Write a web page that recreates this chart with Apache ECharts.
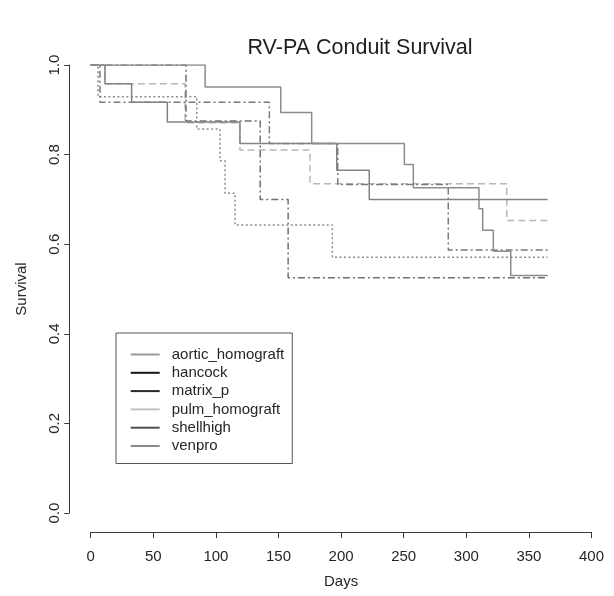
<!DOCTYPE html>
<html>
<head>
<meta charset="utf-8">
<title>RV-PA Conduit Survival</title>
<script src="https://cdn.jsdelivr.net/npm/echarts@6/dist/echarts.min.js"></script>
<style>
  html, body { margin: 0; padding: 0; background: #ffffff; }
  #chart { width: 614px; height: 596px; }
</style>
</head>
<body>
<div id="chart"></div>
<script>
// Kaplan-Meier estimates per conduit type: event days and survival after each step
const groups = ['aortic_homograft', 'hancock', 'matrix_p', 'pulm_homograft', 'shellhigh', 'venpro'];

const aorticDays  = [0, 91.4, 151.8, 176.5, 250.5, 257.7, 310.1, 313.1, 321.6, 335.5, 365];
const aorticSurv  = [1, 0.951, 0.894, 0.825, 0.778, 0.726, 0.679, 0.631, 0.584, 0.530, 0.530];

const hancockDays = [0, 7.4, 142.7, 197.3, 285.6, 365];
const hancockSurv = [1, 0.917, 0.825, 0.733, 0.587, 0.587];

const matrixDays  = [0, 5.8, 84.7, 103.3, 107.3, 115.3, 193, 365];
const matrixSurv  = [1, 0.929, 0.857, 0.786, 0.714, 0.643, 0.571, 0.571];

const pulmDays    = [0, 11.4, 75.4, 119.2, 175.2, 332.3, 365];
const pulmSurv    = [1, 0.958, 0.871, 0.810, 0.735, 0.653, 0.653];

const shellDays   = [0, 11.4, 32.7, 61.2, 119.2, 196.5, 222.5, 365];
const shellSurv   = [1, 0.958, 0.917, 0.873, 0.825, 0.765, 0.700, 0.700];

const venproDays  = [0, 76.1, 135.4, 157.7, 365];
const venproSurv  = [1, 0.875, 0.700, 0.525, 0.525];

// axis ticks
const dayTicks  = [0, 50, 100, 150, 200, 250, 300, 350, 400];
const survTicks = [0.0, 0.2, 0.4, 0.6, 0.8, 1.0];

const curves = {
  aortic_homograft: [aorticDays, aorticSurv],
  hancock: [hancockDays, hancockSurv],
  matrix_p: [matrixDays, matrixSurv],
  pulm_homograft: [pulmDays, pulmSurv],
  shellhigh: [shellDays, shellSurv],
  venpro: [venproDays, venproSurv]
};

// plotted curve styles (grey shades, R-like line types)
const curveStyle = {
  aortic_homograft: { color: '#8c8c8c', type: 'solid' },
  hancock:          { color: '#7a7a7a', type: [7, 3, 2, 3] },
  matrix_p:         { color: '#8a8a8a', type: [2, 2.5] },
  pulm_homograft:   { color: '#b8b8b8', type: [7, 4] },
  shellhigh:        { color: '#828282', type: 'solid' },
  venpro:           { color: '#707070', type: [7, 3, 2, 3] }
};

// legend key colours
const keyColor = {
  aortic_homograft: '#9a9a9a',
  hancock: '#151515',
  matrix_p: '#2a2a2a',
  pulm_homograft: '#c2c2c2',
  shellhigh: '#505050',
  venpro: '#8a8a8a'
};

const pairs = (xs, ys) => xs.map((x, i) => [x, ys[i]]);

const drawOrder = ['pulm_homograft', 'matrix_p', 'venpro', 'hancock', 'shellhigh', 'aortic_homograft'];

const series = drawOrder.map(name => ({
  name: name,
  type: 'line',
  step: 'end',
  showSymbol: false,
  symbol: 'none',
  silent: true,
  animation: false,
  color: keyColor[name],
  lineStyle: { color: curveStyle[name].color, width: 1.5, type: curveStyle[name].type },
  data: pairs(curves[name][0], curves[name][1])
}));

const chart = echarts.init(document.getElementById('chart'), null, { renderer: 'canvas' });

const textColor = '#262626';
const axisColor = '#3a3a3a';
const font = 'Liberation Sans, Arial, sans-serif';

chart.setOption({
  backgroundColor: '#ffffff',
  animation: false,
  title: {
    text: 'RV-PA Conduit Survival',
    left: 355,
    top: 32,
    textAlign: 'center',
    textStyle: { fontFamily: font, fontSize: 21.5, fontWeight: 'normal', color: '#1e1e1e' }
  },
  grid: {
    left: 90.7, right: 614 - 591.5, top: 65, bottom: 596 - 513,
    containLabel: false,
    outerBoundsMode: 'none'
  },
  xAxis: {
    type: 'value',
    min: dayTicks[0],
    max: dayTicks[dayTicks.length - 1],
    interval: 50,
    offset: 19,
    name: 'Days',
    nameLocation: 'middle',
    nameGap: 42.5,
    nameTextStyle: { fontFamily: font, fontSize: 15, color: textColor },
    axisLine: { show: true, onZero: false, lineStyle: { color: axisColor, width: 1 } },
    axisTick: { show: true, length: 6, inside: false, lineStyle: { color: axisColor } },
    axisLabel: { margin: 17.5, fontFamily: font, fontSize: 15, color: textColor },
    splitLine: { show: false }
  },
  yAxis: {
    type: 'value',
    min: survTicks[0],
    max: survTicks[survTicks.length - 1],
    interval: 0.2,
    offset: 21.5,
    name: 'Survival',
    nameLocation: 'middle',
    nameRotate: 90,
    nameGap: 40,
    nameTextStyle: { fontFamily: font, fontSize: 15, color: textColor },
    axisLine: { show: true, onZero: false, lineStyle: { color: axisColor, width: 1 } },
    axisTick: { show: true, length: 5, inside: false, lineStyle: { color: axisColor } },
    axisLabel: {
      rotate: 90,
      margin: 7,
      fontFamily: font,
      fontSize: 15,
      color: textColor,
      formatter: v => v.toFixed(1)
    },
    splitLine: { show: false }
  },
  legend: {
    orient: 'vertical',
    left: 116,
    top: 333,
    width: 177,
    padding: [14, 8, 10, 14.7],
    itemGap: 3.3,
    itemWidth: 29,
    itemHeight: 2,
    icon: 'rect',
    borderColor: '#555555',
    borderWidth: 1,
    borderRadius: 0,
    selectedMode: false,
    textStyle: {
      fontFamily: font,
      fontSize: 15,
      lineHeight: 15,
      color: textColor,
      padding: [0, 0, 0, 7]
    },
    data: groups.map(name => ({ name: name, icon: 'rect', itemStyle: { color: keyColor[name] } }))
  },
  series: series
});
</script>
</body>
</html>
